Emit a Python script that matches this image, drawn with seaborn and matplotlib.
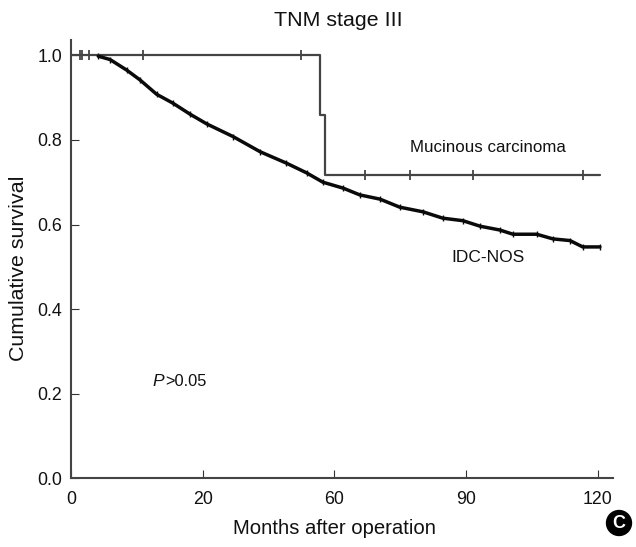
import matplotlib
matplotlib.use("Agg")
import matplotlib.pyplot as plt
import pandas as pd
import seaborn as sns

sns.set_style("white")
plt.rcParams["font.family"] = ["Liberation Sans", "DejaVu Sans"]

x_tick_positions = [0, 30, 60, 90, 120]
x_tick_labels = ["0", "20", "60", "90", "120"]
y_ticks = [0.0, 0.2, 0.4, 0.6, 0.8, 1.0]

idc_months = [6.2, 8.9, 12.7, 15.7, 19.5, 23.2, 27.1, 30.9, 36.9, 43.1, 49.1, 53.7, 57.4, 62,
              65.8, 70.4, 74.9, 80.2, 84.7, 89.3, 93.2, 97.7, 100.7, 106.1, 109.8, 113.7, 116.6, 120.5]
idc_survival = [0.998, 0.990, 0.965, 0.942, 0.908, 0.887, 0.861, 0.838, 0.808, 0.772, 0.745, 0.722, 0.700, 0.686,
                0.670, 0.660, 0.641, 0.630, 0.615, 0.609, 0.596, 0.587, 0.577, 0.577, 0.566, 0.562, 0.547, 0.547]

muc_months = [0, 56.7, 56.7, 57.9, 57.9, 120.5]
muc_survival = [1.0, 1.0, 0.859, 0.859, 0.717, 0.717]
muc_censor_months = [2, 2.6, 4.2, 16.3, 52.5, 67, 77.3, 91.5, 116.7]
muc_censor_survival = [1.0, 1.0, 1.0, 1.0, 1.0, 0.717, 0.717, 0.717, 0.717]

W, H = 636, 547
fig = plt.figure(figsize=(W / 100, H / 100), dpi=100, facecolor="white")
left, right, top, bottom = 71, 612.6, 40, 478.3
ax = fig.add_axes([left / W, 1 - bottom / H, (right - left) / W, (bottom - top) / H])

sns.lineplot(data=pd.DataFrame({"m": muc_months, "s": muc_survival}), x="m", y="s", ax=ax,
             estimator=None, sort=False, color="#444444", linewidth=1.6)
idc = pd.DataFrame({"m": idc_months, "s": idc_survival})
sns.lineplot(data=idc, x="m", y="s", ax=ax, estimator=None, sort=False, color="#0a0a0a", linewidth=2.5)
sns.scatterplot(data=idc, x="m", y="s", ax=ax, marker="|", s=16, color="#0a0a0a", linewidth=1.0)
sns.scatterplot(data=pd.DataFrame({"m": muc_censor_months, "s": muc_censor_survival}), x="m", y="s", ax=ax,
                marker="|", s=55, color="#333333", linewidth=1.2)

ax.set_xlim(0, 123.4)
ax.set_ylim(0, 1.0362)
ax.set_xticks(x_tick_positions, x_tick_labels)
ax.set_yticks(y_ticks, [f"{v:.1f}" for v in y_ticks])
ax.tick_params(axis="both", direction="in", length=6, width=0.8, color="#333333",
               labelsize=12.8, labelcolor="#111111", bottom=True, left=True)
ax.tick_params(axis="x", pad=9)
ax.tick_params(axis="y", pad=6.5)
for side in ("top", "right"):
    ax.spines[side].set_visible(False)
for side in ("left", "bottom"):
    ax.spines[side].set_linewidth(1.5)
    ax.spines[side].set_color("#444444")

ax.set_xlabel("")
ax.set_ylabel("")
fig.text(334.5 / W, 1 - 528 / H, "Months after operation", ha="center", va="center", fontsize=14.6, color="#111111")
fig.text(19 / W, 1 - 268 / H, "Cumulative survival", ha="center", va="center", rotation=90, fontsize=15.4, color="#111111")
fig.text(338 / W, 1 - 21 / H, "TNM stage III", ha="center", va="center", fontsize=15.4, color="#111111")
fig.text(487.5 / W, 1 - 147 / H, "Mucinous carcinoma", ha="center", va="center", fontsize=12.2, color="#111111")
fig.text(488 / W, 1 - 258 / H, "IDC-NOS", ha="center", va="center", fontsize=12.5, color="#111111")
fig.text(152 / W, 1 - 382 / H, "P", ha="left", va="center", fontsize=12.5, style="italic", color="#111111")
fig.text(165 / W, 1 - 382 / H, ">0.05", ha="left", va="center", fontsize=11.8, color="#111111")
fig.text(619 / W, 1 - 523 / H, "C", ha="center", va="center", fontsize=13, fontweight="bold", color="white",
         bbox=dict(boxstyle="circle,pad=0.22", facecolor="black", edgecolor="black"))
fig.savefig("out.png", dpi=100, facecolor="white")
